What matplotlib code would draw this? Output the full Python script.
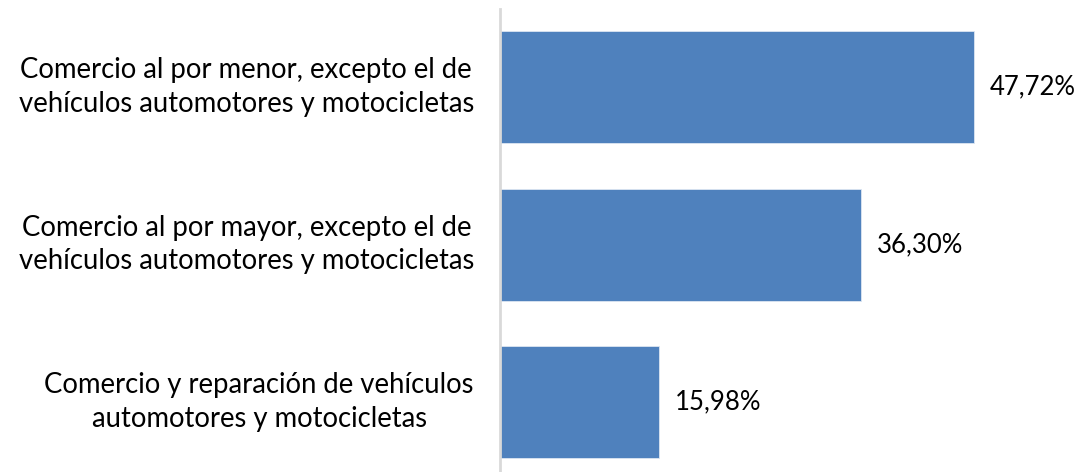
import matplotlib.pyplot as plt

categories = [
    "Comercio al por menor, excepto el de\nvehículos automotores y motocicletas",
    "Comercio al por mayor, excepto el de\nvehículos automotores y motocicletas",
    "Comercio y reparación de vehículos\nautomotores y motocicletas",
]
values = [47.72, 36.30, 15.98]
value_labels = ["47,72%", "36,30%", "15,98%"]

plt.rcParams["font.family"] = ["Lato", "DejaVu Sans"]

W, H = 1081, 472
fig = plt.figure(figsize=(W / 100, H / 100), dpi=100)
ax = fig.add_axes([500 / W, 0, 1 - 500 / W, 1 - 9 / H])

pos = list(range(len(values)))
ax.barh(pos, values, height=0.711, color="#4f81bd", edgecolor="#dce6f2", linewidth=0.6)

ax.set_ylim(2.444, -0.495)
ax.set_xlim(0, 58.5)

for p, v, lab in zip(pos, values, value_labels):
    ax.annotate(lab, (v, p), xytext=(16, 0), textcoords="offset pixels",
                ha="left", va="center", fontsize=18.5, color="#000000")

for p, cat in zip(pos, categories):
    ax.annotate(cat, (0, p), xytext=(-26, 0), textcoords="offset pixels",
                ha="right", va="center", multialignment="center",
                fontsize=19.8, color="#000000", linespacing=1.35)

for s in ["top", "right", "bottom"]:
    ax.spines[s].set_visible(False)
ax.spines["left"].set_color("#d9d9d9")
ax.spines["left"].set_linewidth(2)
ax.set_xticks([])
ax.set_yticks([])

fig.savefig("out.png", dpi=100)
